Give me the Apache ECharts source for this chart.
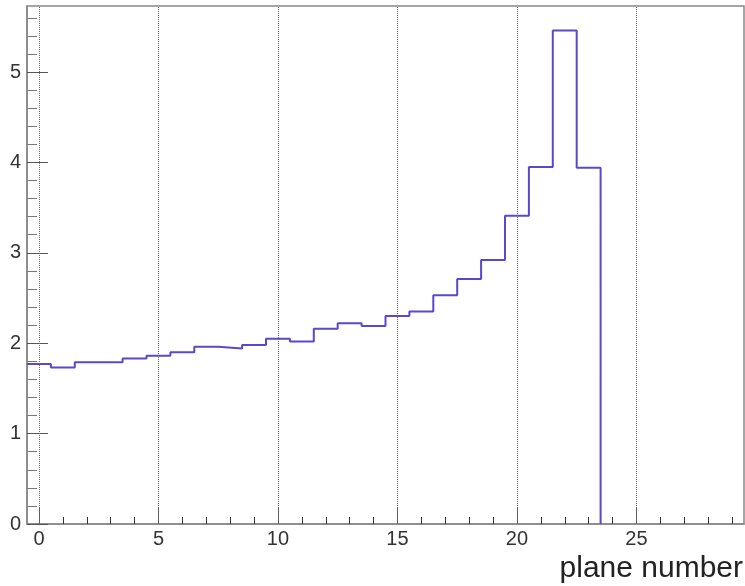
<!DOCTYPE html>
<html>
<head>
<meta charset="utf-8">
<script src="https://cdn.jsdelivr.net/npm/echarts@6/dist/echarts.min.js"></script>
<style>
html,body{margin:0;padding:0;background:#fff;}
#chart{width:745px;height:586px;}
</style>
</head>
<body>
<div id="chart"></div>
<script>
// Histogram: bin centres (plane number) and bin contents
var planes = [0,1,2,3,4,5,6,7,8,9,10,11,12,13,14,15,16,17,18,19,20,21,22,23,24,25,26,27,28,29];
var values = [1.77,1.73,1.79,1.79,1.83,1.86,1.90,1.96,1.94,1.98,2.05,2.02,2.16,2.22,2.19,2.30,2.35,2.53,2.71,2.92,3.41,3.95,5.46,3.94,0,0,0,0,0,0];

// Tick / label lists
var xMinorTicks = [0,1,2,3,4,5,6,7,8,9,10,11,12,13,14,15,16,17,18,19,20,21,22,23,24,25,26,27,28,29];
var xMajorTicks = [0,5,10,15,20,25];
var xLabels = [0,5,10,15,20,25];
var yMajorTicks = [0,1,2,3,4,5];
var yMinorTicks = [0.2,0.4,0.6,0.8,1.2,1.4,1.6,1.8,2.2,2.4,2.6,2.8,3.2,3.4,3.6,3.8,4.2,4.4,4.6,4.8,5.2,5.4,5.6];
var yLabels = [0,1,2,3,4,5];
var xTitle = 'plane number';

// Build step outline from bin edges (bin width 1)
var lastNonZero = 0;
for (var i = 0; i < values.length; i++) { if (values[i] !== 0) lastNonZero = i; }
var outline = [];
for (var j = 0; j <= lastNonZero; j++) {
  outline.push([planes[j] - 0.5, values[j]]);
  outline.push([planes[j] + 0.5, values[j]]);
}
outline.push([planes[lastNonZero] + 0.5, 0]);

var FONT = 'Liberation Sans';
var chart = echarts.init(document.getElementById('chart'), null, {renderer: 'canvas'});
chart.setOption({
  animation: false,
  backgroundColor: '#fff',
  grid: {left: 27, right: 1, top: 6, bottom: 62, show: true, borderColor: '#888', borderWidth: 1.5, containLabel: false},
  xAxis: [{
    type: 'value', min: -0.5, max: 29.5, position: 'bottom',
    axisLine: {show: true, onZero: false, lineStyle: {color: '#888', width: 1.5}},
    axisTick: {show: true, inside: true, length: 7, customValues: xMinorTicks, lineStyle: {color: '#333', width: 1}},
    axisLabel: {show: true, customValues: xLabels, fontFamily: FONT, fontSize: 20, color: '#333', margin: 5},
    splitLine: {show: false}
  }, {
    type: 'value', min: -0.5, max: 29.5, position: 'bottom',
    axisLine: {show: false, onZero: false},
    axisTick: {show: true, inside: true, length: 16, customValues: xMajorTicks, lineStyle: {color: '#555', width: 1}},
    axisLabel: {show: false},
    splitLine: {show: false}
  }],
  yAxis: [{
    type: 'value', min: 0, max: 5.73, position: 'left',
    axisLine: {show: true, onZero: false, lineStyle: {color: '#888', width: 1.5}},
    axisTick: {show: true, inside: true, length: 21, customValues: yMajorTicks, lineStyle: {color: '#555', width: 1}},
    axisLabel: {show: true, customValues: yLabels, fontFamily: FONT, fontSize: 20, color: '#333', margin: 6},
    splitLine: {show: false}
  }, {
    type: 'value', min: 0, max: 5.73, position: 'left',
    axisLine: {show: false, onZero: false},
    axisTick: {show: true, inside: true, length: 10, customValues: yMinorTicks, lineStyle: {color: '#777', width: 1}},
    axisLabel: {show: false},
    splitLine: {show: false}
  }],
  graphic: [{
    type: 'text', right: 2, top: 554,
    style: {text: xTitle, font: '30px "Liberation Sans"', fill: '#222'}
  }],
  series: [{
    type: 'line',
    xAxisIndex: 0, yAxisIndex: 0,
    data: outline,
    showSymbol: false,
    symbol: 'none',
    lineStyle: {color: '#5a48cc', width: 2},
    markLine: {
      silent: true,
      symbol: 'none',
      label: {show: false},
      lineStyle: {type: 'dotted', color: '#666', width: 1},
      data: xMajorTicks.map(function (v) { return {xAxis: v}; })
    },
    z: 3
  }]
});
</script>
</body>
</html>
